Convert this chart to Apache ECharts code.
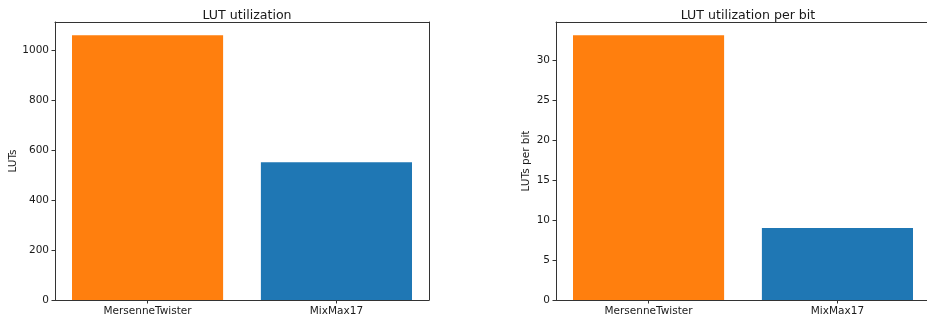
<!DOCTYPE html>
<html>
<head>
<meta charset="utf-8">
<script src="https://cdn.jsdelivr.net/npm/echarts@6/dist/echarts.min.js"></script>
<style>
  html, body { margin: 0; padding: 0; background: #fff; }
  #chart { width: 927px; height: 323px; }
</style>
</head>
<body>
<div id="chart"></div>
<script>
// Generators compared in both panels
const categories = ['MersenneTwister', 'MixMax17'];
const barColors = ['#ff7f0e', '#1f77b4'];

// Total LUTs used by each generator
const lutValues = [1062, 553];
// LUTs per generated bit
const lutPerBitValues = [33.1, 9.0];

// Y tick values for each panel
const lutTicks = [0, 200, 400, 600, 800, 1000];
const lutPerBitTicks = [0, 5, 10, 15, 20, 25, 30];

const FONT = 'DejaVu Sans';
const INK = '#1a1a1a';
const SPINE = '#333333';
const TICK_SIZE = 10.5;
const TITLE_SIZE = 12.6;
const BAR_WIDTH = 0.8; // in category units
const X_MIN = -0.49, X_MAX = 1.49;

const xPositions = categories.map((_, i) => i);
const spineLine = { show: true, onZero: false, lineStyle: { color: SPINE, width: 1 } };

function xAxisFor(gridIndex) {
  return {
    type: 'value',
    gridIndex: gridIndex,
    position: 'bottom',
    min: X_MIN,
    max: X_MAX,
    splitLine: { show: false },
    axisLine: spineLine,
    axisTick: {
      show: true, length: 3.5, inside: false,
      customValues: xPositions,
      lineStyle: { color: SPINE, width: 1 }
    },
    axisLabel: {
      show: true, margin: 6,
      customValues: xPositions,
      formatter: v => categories[Math.round(v)] || '',
      fontFamily: FONT, fontSize: TICK_SIZE, color: INK
    }
  };
}

// Top spine: a bare axis line along the upper edge of the panel
function topSpine(gridIndex) {
  return {
    type: 'value', gridIndex: gridIndex, position: 'top',
    min: X_MIN, max: X_MAX,
    axisLine: spineLine, axisTick: { show: false }, axisLabel: { show: false },
    splitLine: { show: false }
  };
}

function yAxisFor(gridIndex, values, ticks, name, nameGap) {
  const top = Math.max.apply(null, values) * 1.05;
  return {
    type: 'value',
    gridIndex: gridIndex,
    position: 'left',
    min: 0,
    max: top,
    name: name,
    nameLocation: 'middle',
    nameGap: nameGap,
    nameRotate: 90,
    nameTextStyle: { fontFamily: FONT, fontSize: TICK_SIZE, color: INK },
    splitLine: { show: false },
    axisLine: spineLine,
    axisTick: {
      show: true, length: 3.5, inside: false,
      customValues: ticks,
      lineStyle: { color: SPINE, width: 1 }
    },
    axisLabel: {
      show: true, margin: 6,
      customValues: ticks,
      formatter: v => String(v),
      fontFamily: FONT, fontSize: TICK_SIZE, color: INK
    }
  };
}

// Right spine: a bare axis line along the right edge of the panel
function rightSpine(gridIndex, values) {
  return {
    type: 'value', gridIndex: gridIndex, position: 'right',
    min: 0, max: Math.max.apply(null, values) * 1.05,
    axisLine: spineLine, axisTick: { show: false }, axisLabel: { show: false },
    splitLine: { show: false }
  };
}

function barSeries(axisIndex, values) {
  return {
    type: 'custom',
    xAxisIndex: axisIndex,
    yAxisIndex: axisIndex,
    data: values.map((v, i) => [i, v]),
    renderItem: function (params, api) {
      const x = api.value(0);
      const y = api.value(1);
      const p0 = api.coord([x - BAR_WIDTH / 2, y]);
      const p1 = api.coord([x + BAR_WIDTH / 2, 0]);
      return {
        type: 'rect',
        shape: { x: p0[0], y: p0[1], width: p1[0] - p0[0], height: p1[1] - p0[1] },
        style: { fill: barColors[params.dataIndex] }
      };
    }
  };
}

const chart = echarts.init(document.getElementById('chart'), null, { renderer: 'canvas' });

const gridBase = { top: 22, width: 374, height: 278, show: false, outerBoundsMode: 'none', containLabel: false };

chart.setOption({
  backgroundColor: '#ffffff',
  animation: false,
  title: [
    {
      text: 'LUT utilization', left: 242, top: 4, textAlign: 'center',
      textStyle: { fontFamily: FONT, fontSize: TITLE_SIZE, fontWeight: 'normal', color: INK }
    },
    {
      text: 'LUT utilization per bit', left: 743, top: 4, textAlign: 'center',
      textStyle: { fontFamily: FONT, fontSize: TITLE_SIZE, fontWeight: 'normal', color: INK }
    }
  ],
  grid: [
    Object.assign({ left: 55 }, gridBase),
    Object.assign({ left: 556 }, gridBase)
  ],
  xAxis: [xAxisFor(0), xAxisFor(1), topSpine(0), topSpine(1)],
  yAxis: [
    yAxisFor(0, lutValues, lutTicks, 'LUTs', 36),
    yAxisFor(1, lutPerBitValues, lutPerBitTicks, 'LUTs per bit', 24),
    rightSpine(0, lutValues),
    rightSpine(1, lutPerBitValues)
  ],
  series: [barSeries(0, lutValues), barSeries(1, lutPerBitValues)]
});
</script>
</body>
</html>
